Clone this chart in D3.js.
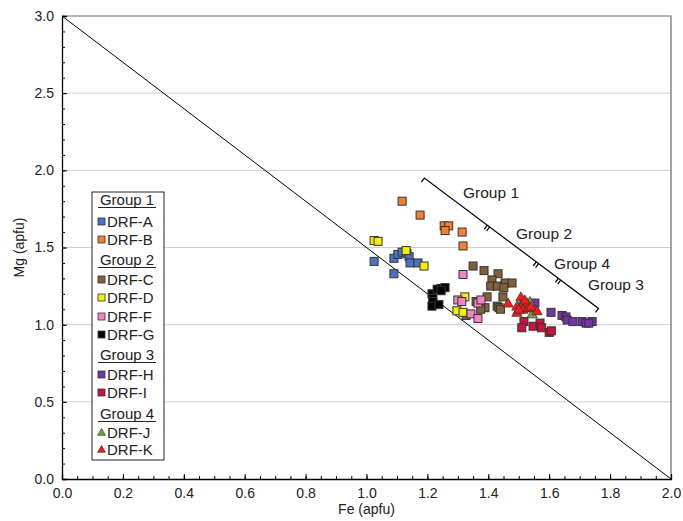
<!DOCTYPE html>
<html>
<head>
<meta charset="utf-8">
<script src="https://cdn.jsdelivr.net/npm/d3@7"></script>
<style>
  body { margin: 0; background: #fff; }
  svg { display: block; font-family: "Liberation Sans", Arial, sans-serif; }
</style>
</head>
<body>
<svg id="chart" width="683" height="521"></svg>
<script>
// Fe vs Mg (apfu), one array per sample
const drfA = [[1.025, 1.41], [1.090, 1.43], [1.103, 1.455], [1.117, 1.47], [1.133, 1.46],
              [1.140, 1.44], [1.143, 1.40], [1.169, 1.40], [1.090, 1.33]];
const drfB = [[1.117, 1.80], [1.176, 1.71], [1.255, 1.64], [1.270, 1.64], [1.258, 1.61],
              [1.314, 1.60], [1.317, 1.51]];
const drfC = [[1.350, 1.38], [1.386, 1.35], [1.432, 1.33], [1.412, 1.29], [1.455, 1.27],
              [1.478, 1.27], [1.408, 1.25], [1.430, 1.25], [1.451, 1.24], [1.396, 1.18],
              [1.448, 1.18], [1.360, 1.15], [1.389, 1.11], [1.429, 1.12], [1.435, 1.11],
              [1.327, 1.06], [1.375, 1.10], [1.440, 1.10]];
const drfD = [[1.025, 1.545], [1.038, 1.54], [1.130, 1.48], [1.189, 1.38], [1.323, 1.18],
              [1.297, 1.09], [1.317, 1.08]];
const drfF = [[1.317, 1.325], [1.300, 1.16], [1.313, 1.15], [1.366, 1.14], [1.376, 1.16],
              [1.343, 1.07], [1.366, 1.04]];
const drfG = [[1.215, 1.20], [1.218, 1.17], [1.218, 1.15], [1.215, 1.12], [1.232, 1.23],
              [1.245, 1.235], [1.258, 1.24], [1.238, 1.13], [1.245, 1.22]];
const drfH = [[1.553, 1.14], [1.606, 1.08], [1.642, 1.06], [1.655, 1.05], [1.659, 1.03],
              [1.678, 1.02], [1.708, 1.02], [1.721, 1.01], [1.741, 1.02], [1.730, 1.01]];
const drfI = [[1.517, 1.02], [1.510, 0.98], [1.547, 0.99], [1.570, 1.01], [1.575, 0.98],
              [1.600, 0.95], [1.607, 0.96]];
const drfJ = [[1.537, 1.15], [1.544, 1.07], [1.520, 1.11], [1.505, 1.13]];
const drfK = [[1.465, 1.14], [1.507, 1.18], [1.494, 1.12], [1.494, 1.08], [1.510, 1.13],
              [1.527, 1.14], [1.514, 1.10], [1.530, 1.11], [1.560, 1.09], [1.520, 1.16],
              [1.500, 1.10], [1.540, 1.12]];

const xTicks = [0, 0.2, 0.4, 0.6, 0.8, 1.0, 1.2, 1.4, 1.6, 1.8, 2.0];
const yTicks = [0, 0.5, 1.0, 1.5, 2.0, 2.5, 3.0];
const groupLabels = ["Group 1", "Group 2", "Group 4", "Group 3"];

const series = [
  { name: "DRF-A", data: drfA, color: "#4a74c0", shape: "square" },
  { name: "DRF-B", data: drfB, color: "#f28030", shape: "square" },
  { name: "DRF-C", data: drfC, color: "#84603a", shape: "square" },
  { name: "DRF-D", data: drfD, color: "#f5f000", shape: "square" },
  { name: "DRF-F", data: drfF, color: "#f585c2", shape: "square" },
  { name: "DRF-G", data: drfG, color: "#000000", shape: "square" },
  { name: "DRF-H", data: drfH, color: "#7435a4", shape: "square" },
  { name: "DRF-I", data: drfI, color: "#c8143c", shape: "square" },
  { name: "DRF-J", data: drfJ, color: "#6aab44", shape: "triangle" },
  { name: "DRF-K", data: drfK, color: "#ff1a1a", shape: "triangle" }
];

const legendRows = [
  { head: "Group 1" }, { s: 0 }, { s: 1 },
  { head: "Group 2" }, { s: 2 }, { s: 3 }, { s: 4 }, { s: 5 },
  { head: "Group 3" }, { s: 6 }, { s: 7 },
  { head: "Group 4" }, { s: 8 }, { s: 9 }
];

const margin = { top: 16, right: 12, bottom: 42, left: 62 };
const width = 683, height = 521;
const svg = d3.select("#chart");

let x = d3.scaleLinear().domain([0, 2]).range([margin.left, width - margin.right]);
let y = d3.scaleLinear().domain([0, 3]).range([height - margin.bottom, margin.top]);

// gridlines
svg.append("g")
  .selectAll("line")
  .data(yTicks.filter(d => d > 0 && d < 3))
  .enter().append("line")
  .attr("x1", x(0)).attr("x2", x(2))
  .attr("y1", d => y(d)).attr("y2", d => y(d))
  .attr("stroke", "#cfcfcf").attr("stroke-width", 1);

// top and right frame
svg.append("path")
  .attr("d", `M${x(0)},${y(3)}H${x(2)}V${y(0)}`)
  .attr("fill", "none").attr("stroke", "#6a6a6a").attr("stroke-width", 1.2);

// minor ticks
svg.append("g")
  .attr("transform", `translate(0,${y(0)})`)
  .call(d3.axisBottom(x).ticks(40).tickSize(-3).tickFormat(""))
  .call(g => g.select(".domain").remove());
svg.append("g")
  .attr("transform", `translate(${x(0)},0)`)
  .call(d3.axisLeft(y).ticks(30).tickSize(-3).tickFormat(""))
  .call(g => g.select(".domain").remove());

// major axes
let xAxis = svg.append("g")
  .attr("transform", `translate(0,${y(0)})`)
  .call(d3.axisBottom(x).tickValues(xTicks).tickSize(-5).tickPadding(9).tickFormat(d3.format(".1f")));
let yAxis = svg.append("g")
  .attr("transform", `translate(${x(0)},0)`)
  .call(d3.axisLeft(y).tickValues(yTicks).tickSize(-5).tickPadding(8).tickFormat(d3.format(".1f")));

[xAxis, yAxis].forEach(a => {
  a.selectAll("text").attr("font-size", "14px").attr("fill", "#222")
    .style("font-family", "Liberation Sans, Arial, sans-serif");
  a.select(".domain").attr("stroke", "#000").attr("stroke-width", 1.3);
});

svg.append("text")
  .attr("x", (x(0) + x(2)) / 2).attr("y", 514)
  .attr("text-anchor", "middle").attr("font-size", "14px").attr("fill", "#222")
  .text("Fe (apfu)");
svg.append("text")
  .attr("transform", `translate(24,${(y(0) + y(3)) / 2}) rotate(-90)`)
  .attr("text-anchor", "middle").attr("font-size", "14px").attr("fill", "#222")
  .text("Mg (apfu)");

// 1:1 exchange line Mg = 3 - 1.5 Fe
svg.append("line")
  .attr("x1", x(0)).attr("y1", y(3)).attr("x2", x(2)).attr("y2", y(0))
  .attr("stroke", "#000").attr("stroke-width", 1);

// group bracket
const bStart = [1.19, 1.95], bEnd = [1.762, 1.105];
const bDiv = [0.368, 0.649, 0.776];
const p0 = [x(bStart[0]), y(bStart[1])], p1 = [x(bEnd[0]), y(bEnd[1])];
const dx = p1[0] - p0[0], dy = p1[1] - p0[1];
const len = Math.hypot(dx, dy);
const ux = dx / len, uy = dy / len;
const nx = -uy, ny = ux; // normal pointing down-left
const br = svg.append("g").attr("stroke", "#000").attr("stroke-width", 1.2).attr("fill", "none");
br.append("path").attr("d",
  `M${p0[0] + nx * 5},${p0[1] + ny * 5}L${p0[0]},${p0[1]}L${p1[0]},${p1[1]}L${p1[0] + nx * 5},${p1[1] + ny * 5}`);
bDiv.forEach(t => {
  const cx = p0[0] + dx * t, cy = p0[1] + dy * t;
  [-1.5, 1.5].forEach(o => {
    const bx = cx + ux * o, by = cy + uy * o;
    br.append("line")
      .attr("x1", bx).attr("y1", by)
      .attr("x2", bx + nx * 5).attr("y2", by + ny * 5);
  });
});

const labelPos = [[1.409, 1.85], [1.583, 1.59], [1.708, 1.395], [1.819, 1.26]];
svg.append("g").selectAll("text")
  .data(groupLabels)
  .enter().append("text")
  .attr("x", (d, i) => x(labelPos[i][0]))
  .attr("y", (d, i) => y(labelPos[i][1]) + 5)
  .attr("text-anchor", "middle").attr("font-size", "15.5px").attr("fill", "#222")
  .text(d => d);

// markers
const tri = d3.symbol().type(d3.symbolTriangle);
series.forEach(s => {
  const g = svg.append("g");
  if (s.shape === "square") {
    g.selectAll("rect").data(s.data).enter().append("rect")
      .attr("x", d => x(d[0]) - 4).attr("y", d => y(d[1]) - 4)
      .attr("width", 8).attr("height", 8)
      .attr("fill", s.color).attr("stroke", "#333").attr("stroke-width", 1);
  } else {
    g.selectAll("path").data(s.data).enter().append("path")
      .attr("d", tri.size(46))
      .attr("transform", d => `translate(${x(d[0])},${y(d[1]) + 1})`)
      .attr("fill", s.color).attr("stroke", "#333").attr("stroke-width", 0.8);
  }
});

// legend
const lg = svg.append("g").attr("transform", "translate(92,192)");
lg.append("rect").attr("x", 0).attr("y", 0).attr("width", 72).attr("height", 268)
  .attr("fill", "#fff").attr("stroke", "#222").attr("stroke-width", 1);
const rowY = [7, 29, 47, 67, 87, 105, 124, 142, 162, 182, 200, 221, 240, 257];
legendRows.forEach((r, i) => {
  const cy = rowY[i];
  if (r.head) {
    lg.append("text").attr("x", 35).attr("y", cy + 5.5).attr("text-anchor", "middle")
      .attr("font-size", "15px").attr("fill", "#222").text(r.head);
    lg.append("line").attr("x1", 6).attr("x2", 64).attr("y1", cy + 8.5).attr("y2", cy + 8.5)
      .attr("stroke", "#222").attr("stroke-width", 1);
  } else {
    const s = series[r.s];
    if (s.shape === "square") {
      lg.append("rect").attr("x", 6).attr("y", cy - 3).attr("width", 7).attr("height", 7)
        .attr("fill", s.color).attr("stroke", "#333").attr("stroke-width", 0.8);
    } else {
      lg.append("path").attr("d", tri.size(26))
        .attr("transform", `translate(${9.5},${cy + 1})`)
        .attr("fill", s.color).attr("stroke", "#333").attr("stroke-width", 0.7);
    }
    lg.append("text").attr("x", 15).attr("y", cy + 5.5)
      .attr("font-size", "15px").attr("fill", "#222").text(s.name);
  }
});
</script>
</body>
</html>
